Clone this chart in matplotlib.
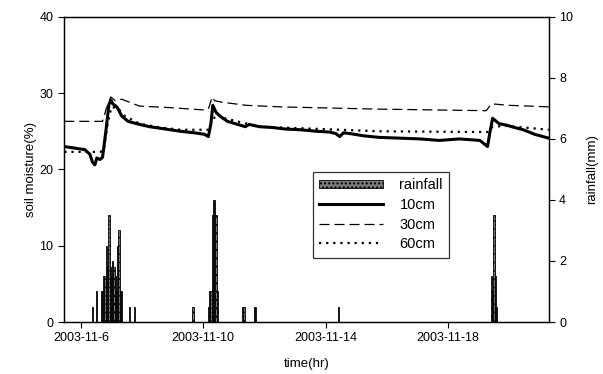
import numpy as np
import pandas as pd
import matplotlib
matplotlib.use("Agg")
import matplotlib.pyplot as plt
import matplotlib.dates as mdates
from matplotlib.patches import Patch
from matplotlib.lines import Line2D

plt.rcParams['font.family'] = ['Liberation Sans', 'DejaVu Sans']

start = pd.Timestamp('2003-11-06 00:00')

# hourly rainfall (hours after 2003-11-06 00:00, mm)
rain_hr = [9, 12, 16, 17, 18, 19, 20, 21, 22, 23, 24, 25, 26, 27, 28, 29, 30, 31, 32,
           38, 42, 88, 100, 101, 102, 103, 104, 105, 106, 107,
           127, 128, 136, 137, 202, 322, 323, 324, 325, 326]
rain_mm = [0.5, 1.0, 1.0, 1.0, 1.5, 1.5, 2.5, 1.8, 3.5, 1.8, 1.5, 2.0, 1.8, 1.5, 1.0, 2.5, 3.0, 1.0, 1.0,
           0.5, 0.5, 0.5, 0.5, 1.0, 1.0, 3.5, 4.0, 4.0, 3.5, 1.0,
           0.5, 0.5, 0.5, 0.5, 0.5, 1.5, 1.0, 3.5, 1.5, 0.5]

# soil moisture (%), hours after 2003-11-06 00:00
t10 = [-13, -5, 3, 7, 9, 11, 12.5, 15, 17, 19.6, 22, 23.5, 25, 27.4, 29, 32, 37, 46, 54, 62, 70, 78,
       89, 97, 100, 102, 103.5, 106, 109, 115, 121, 129, 132, 140, 150, 160, 172, 185, 195, 200, 203,
       206, 211, 222, 234, 250, 266, 281, 297, 313, 317.5, 319, 321, 323, 328, 334, 340, 347, 356, 367]
m10 = [23.0, 22.8, 22.6, 22.0, 21.0, 20.6, 21.5, 21.3, 21.6, 25.0, 28.5, 29.1, 28.6, 28.3, 28.0, 27.0,
       26.3, 25.9, 25.6, 25.4, 25.2, 25.0, 24.8, 24.6, 24.3, 26.0, 28.4, 27.5, 27.0, 26.3, 26.0, 25.6,
       25.9, 25.6, 25.5, 25.3, 25.2, 25.0, 24.9, 24.7, 24.3, 24.8, 24.7, 24.4, 24.2, 24.1, 24.0, 23.8,
       24.0, 23.8, 23.2, 23.0, 25.0, 26.7, 26.0, 25.8, 25.5, 25.2, 24.6, 24.1]

t30 = [-13, 17, 20, 23.5, 27, 32, 46, 70, 96, 100, 103, 105, 111, 130, 156, 234, 318, 322, 336, 367]
m30 = [26.3, 26.3, 28.0, 29.5, 29.0, 29.2, 28.3, 28.1, 27.8, 27.9, 29.5, 29.0, 28.8, 28.4, 28.2,
       27.9, 27.7, 28.6, 28.4, 28.2]

t60 = [-13, 15, 18, 21, 24, 29, 34.5, 46, 62, 78, 100, 103.5, 107, 113, 125, 140, 172, 234, 319,
       323, 334, 354, 367]
m60 = [22.3, 22.3, 22.5, 26.0, 28.2, 28.0, 27.0, 26.0, 25.5, 25.2, 25.2, 26.5, 27.3, 26.7, 26.2,
       25.6, 25.4, 25.0, 24.9, 25.6, 25.7, 25.4, 25.2]


def to_dates(hours):
    return start + pd.to_timedelta(np.array(hours, dtype=float), unit='h')


fig = plt.figure(figsize=(6.03, 3.74), dpi=100)
ax = fig.add_axes([0.106, 0.139, 0.804, 0.816])
ax2 = ax.twinx()

ax2.bar(to_dates(rain_hr), rain_mm, width=1 / 24, align='center',
        facecolor='#7a7a7a', edgecolor='black', linewidth=0.6, hatch='....')

ax.plot(to_dates(t10), m10, color='black', lw=2.2, solid_joinstyle='round')
ax.plot(to_dates(t30), m30, color='black', lw=0.9, dashes=(8, 4))
ax.plot(to_dates(t60), m60, color='black', lw=1.6, linestyle=(0, (1, 2.2)))

ax.set_ylim(0, 40)
ax.set_yticks([0, 10, 20, 30, 40])
ax2.set_ylim(0, 10)
ax2.set_yticks([0, 2, 4, 6, 8, 10])
ax.set_xlim(start - pd.Timedelta(hours=13.3), start + pd.Timedelta(hours=367))

ax.set_xticks([pd.Timestamp('2003-11-06'), pd.Timestamp('2003-11-10'),
               pd.Timestamp('2003-11-14'), pd.Timestamp('2003-11-18')])
ax.xaxis.set_major_formatter(plt.FuncFormatter(
    lambda v, p: '{0}-{1}-{2}'.format(mdates.num2date(v).year, mdates.num2date(v).month,
                                      mdates.num2date(v).day)))

for a in (ax, ax2):
    a.tick_params(direction='out', length=4, width=0.8, labelsize=9)
    for s in a.spines.values():
        s.set_linewidth(0.9)

ax.set_ylabel('soil moisture(%)', fontsize=9.5, labelpad=2)
ax2.set_ylabel('rainfall(mm)', fontsize=9.5, labelpad=9)
ax.set_xlabel('time(hr)', fontsize=9.5, labelpad=10)

handles = [Patch(facecolor='#7a7a7a', edgecolor='black', hatch='....', linewidth=0.6),
           Line2D([], [], color='black', lw=2.2),
           Line2D([], [], color='black', lw=0.9, dashes=(8, 4)),
           Line2D([], [], color='black', lw=1.6, linestyle=(0, (1, 2.2)))]
leg = ax2.legend(handles, ['rainfall', '10cm', '30cm', '60cm'], loc='upper left',
                 bbox_to_anchor=(0.513, 0.492), fontsize=10.5, frameon=True, fancybox=False,
                 edgecolor='black', handlelength=4.4, handleheight=0.5, labelspacing=0.38,
                 borderpad=0.45, handletextpad=1.1, borderaxespad=0.0)
leg.get_frame().set_linewidth(0.9)

fig.savefig('out.png', dpi=100)
